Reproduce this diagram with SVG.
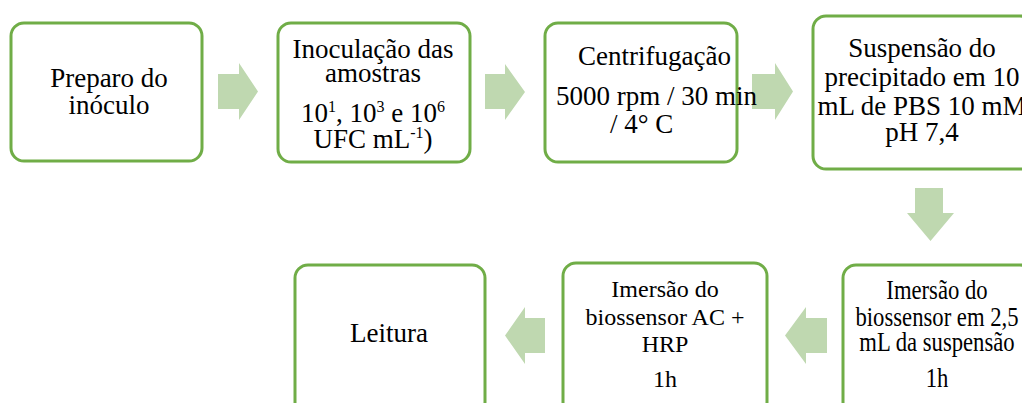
<svg xmlns="http://www.w3.org/2000/svg" width="1022" height="403" viewBox="0 0 1022 403" font-family="Liberation Serif">
<rect width="1022" height="403" fill="#fff"/>
<g id="connectors" fill="#BFD8B0" stroke="none">
<polygon points="218,74 239,74 239,63 258,91.5 239,120 239,109 218,109"/>
<polygon points="485,74 505,74 505,64 525,92 505,120 505,109 485,109"/>
<polygon points="752,74 775,74 775,63 793,91.5 775,120 775,109 752,109"/>
<polygon points="915,188 943,188 943,213 954,213 930.5,241 907,213 915,213"/>
<polygon points="545,318 525,318 525,307 505,335.5 525,364 525,353 545,353"/>
<polygon points="827,318 806,318 806,307 785,335.5 806,364 806,353 827,353"/>
</g>
<g id="nodes" fill="#fff" stroke="#70AD47" stroke-width="3">
<rect id="b1" x="11" y="23" width="191" height="138" rx="13"/>
<rect id="b2" x="278" y="23" width="192" height="139" rx="13"/>
<rect id="b3" x="545" y="23" width="192" height="139" rx="13"/>
<rect id="b4" x="813" y="16" width="220" height="153" rx="13"/>
<rect id="b5" x="843" y="265" width="190" height="150" rx="13"/>
<rect id="b6" x="563" y="263" width="204" height="152" rx="13"/>
<rect id="b7" x="295" y="265" width="190" height="150" rx="13"/>
</g>
<g id="n1">
<text font-family="serif" font-size="27" x="109" y="87" text-anchor="middle">Preparo do</text>
<text font-family="serif" font-size="27" x="109" y="114" text-anchor="middle">inóculo</text>
</g>
<g id="n2">
<text font-size="27" x="373" y="58" text-anchor="middle">Inoculação das</text>
<text font-size="27" x="373" y="82" text-anchor="middle">amostras</text>
<text font-size="27" x="373" y="122" text-anchor="middle">10<tspan font-size="16" dy="-10">1</tspan><tspan dy="10">, 10</tspan><tspan font-size="16" dy="-10">3</tspan><tspan dy="10"> e 10</tspan><tspan font-size="16" dy="-10">6</tspan></text>
<text font-size="27" x="373" y="148" text-anchor="middle">UFC mL<tspan font-size="16" dy="-10">-1</tspan><tspan dy="10">)</tspan></text>
</g>
<g id="n3">
<text font-family="Liberation Serif" font-size="27" x="578" y="65">Centrifugação</text>
<text font-family="Liberation Serif" font-size="27" x="556" y="105">5000 rpm / 30 min</text>
<text font-family="Liberation Serif" font-size="27" x="610" y="133">/ 4° C</text>
</g>
<g id="n4">
<text font-family="Times New Roman" font-size="27" x="922" y="57" text-anchor="middle">Suspensão do</text>
<text font-family="Times New Roman" font-size="27" x="922" y="86" text-anchor="middle">precipitado em 10</text>
<text font-family="Times New Roman" font-size="27" x="922" y="115" text-anchor="middle">mL de PBS 10 mM</text>
<text font-family="Times New Roman" font-size="27" x="922" y="141" text-anchor="middle">pH 7,4</text>
</g>
<g id="n5">
<text font-family="Liberation Serif" font-size="27" x="0" y="299" text-anchor="middle" transform="translate(937 0) scale(0.84 1)">Imersão do</text>
<text font-family="Liberation Serif" font-size="27" x="0" y="326" text-anchor="middle" transform="translate(937 0) scale(0.84 1)">biossensor em 2,5</text>
<text font-family="Liberation Serif" font-size="27" x="0" y="351" text-anchor="middle" transform="translate(937 0) scale(0.84 1)">mL da suspensão</text>
<text font-family="Liberation Serif" font-size="27" x="0" y="387" text-anchor="middle" transform="translate(937 0) scale(0.84 1)">1h</text>
</g>
<g id="n6">
<text font-family="Liberation Serif" font-size="24" x="665" y="297" text-anchor="middle">Imersão do</text>
<text font-family="Liberation Serif" font-size="24" x="665" y="325" text-anchor="middle">biossensor AC +</text>
<text font-family="Liberation Serif" font-size="24" x="665" y="352" text-anchor="middle">HRP</text>
<text font-family="Liberation Serif" font-size="24" x="665" y="387" text-anchor="middle">1h</text>
</g>
<g id="n7">
<text font-family="Liberation Serif" font-size="27" x="350" y="342">Leitura</text>
</g>
</svg>
